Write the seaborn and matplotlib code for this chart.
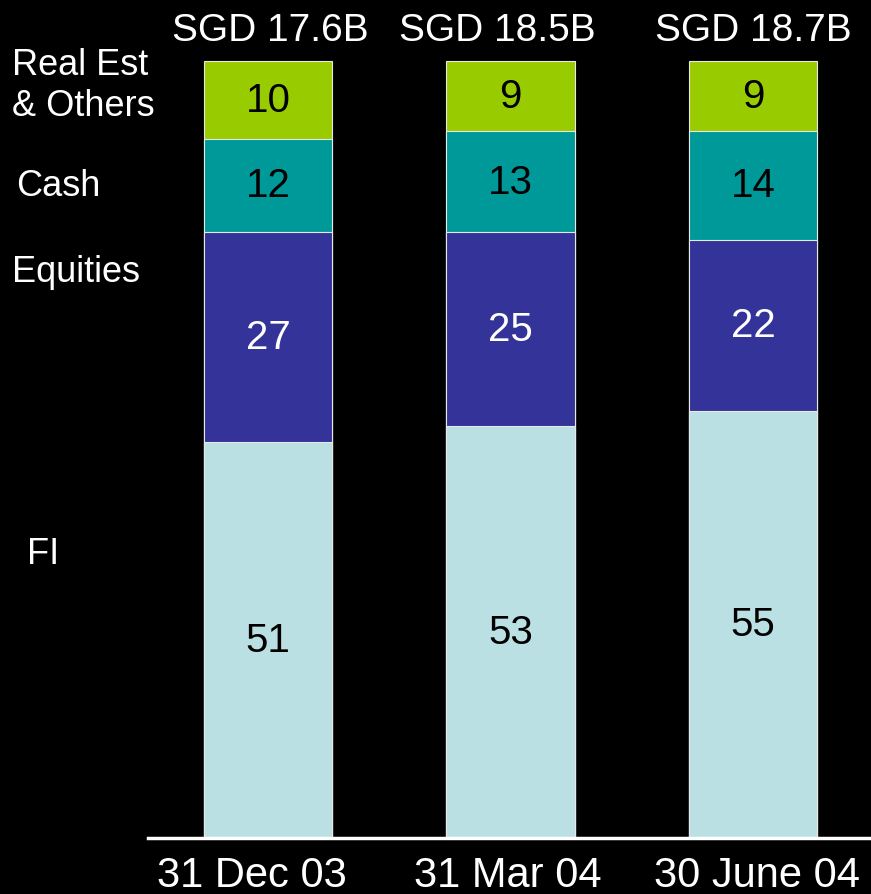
import matplotlib
matplotlib.use("Agg")
import matplotlib.pyplot as plt
from matplotlib.transforms import ScaledTranslation
import seaborn as sns
import pandas as pd
import numpy as np

# ---- data ----
dates = ["31 Dec 03", "31 Mar 04", "30 June 04"]
totals = ["SGD 17.6B", "SGD 18.5B", "SGD 18.7B"]
fi = [51, 53, 55]
equities = [27, 25, 22]
cash = [12, 13, 14]
real_est = [10, 9, 9]
series_names = ["FI", "Equities", "Cash", "Real Est\n& Others"]

# ---- style ----
sns.set_theme(style="white")
plt.rcParams["font.family"] = ["Liberation Sans", "DejaVu Sans"]

colors = {"FI": "#BBE0E3", "Equities": "#333399", "Cash": "#009999",
          "Real Est\n& Others": "#99CC00"}
text_colors = {"FI": "black", "Equities": "white", "Cash": "black",
               "Real Est\n& Others": "black"}

W, H = 871, 895
fig = plt.figure(figsize=(W / 100, H / 100), dpi=100, facecolor="black")
ax = fig.add_axes([148 / W, 56 / H, 1 - 148 / W, 1 - 56 / H])
ax.set_facecolor("black")

vals = [fi, equities, cash, real_est]
cum = np.cumsum(np.array(vals), axis=0)
df = pd.DataFrame({"date": dates})

# draw cumulative stacks from the top layer down
for i in range(len(series_names) - 1, -1, -1):
    name = series_names[i]
    d = df.copy()
    d["v"] = cum[i]
    sns.barplot(data=d, x="date", y="v", order=dates, color=colors[name],
                saturation=1, width=0.53, edgecolor="#E8E8E8", linewidth=0.8,
                ax=ax, errorbar=None)

# value labels centered in segments
for i, name in enumerate(series_names):
    bottoms = cum[i] - np.array(vals[i])
    for j in range(len(dates)):
        ax.text(j, bottoms[j] + vals[i][j] / 2, str(vals[i][j]),
                ha="center", va="center", fontsize=29,
                color=text_colors[name])

ax.set_xlim(-0.495, 2.487)
ax.set_ylim(0, 108)
ax.set_xlabel("")
ax.set_ylabel("")
ax.set_yticks([])
for s in ["left", "top", "right"]:
    ax.spines[s].set_visible(False)
ax.spines["bottom"].set_color("white")
ax.spines["bottom"].set_linewidth(2.5)
ax.tick_params(axis="x", length=0, pad=12, colors="white")
ax.set_xticks(range(len(dates)))
ax.set_xticklabels(dates, fontsize=30)
for lab, dx in zip(ax.get_xticklabels(), [-16, -3, 4]):
    lab.set_transform(lab.get_transform() +
                      ScaledTranslation(dx / 100, 0, fig.dpi_scale_trans))

# totals above bars
tot_offsets = [0.01, -0.055, 0.0]
fig.canvas.draw()
for j, t in enumerate(totals):
    xpix = ax.transData.transform((j + tot_offsets[j], 0))[0]
    fig.text(xpix / W, 1 - 31 / H, t, ha="center", va="center",
             fontsize=28, color="white")

# category labels on the left
left_labels = [("Real Est\n& Others", 12, 86), ("Cash", 16, 187),
               ("Equities", 12, 272), ("FI", 27, 555)]
for lab, xp, yp in left_labels:
    fig.text(xp / W, 1 - yp / H, lab, ha="left", va="center",
             fontsize=26, color="white", linespacing=1.22)

fig.savefig("out.png", dpi=100, facecolor="black")
